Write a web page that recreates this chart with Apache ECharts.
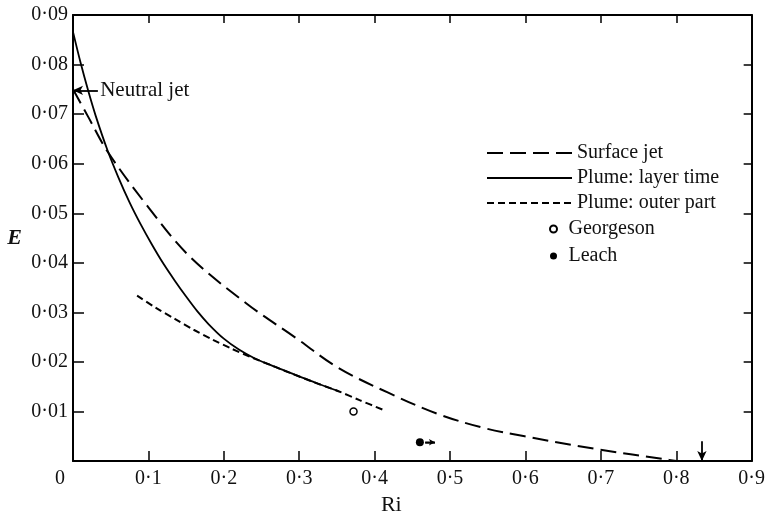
<!DOCTYPE html>
<html><head><meta charset="utf-8">
<script src="https://cdn.jsdelivr.net/npm/echarts@6/dist/echarts.min.js"></script>
<style>html,body{margin:0;padding:0;background:#fff}#c{width:768px;height:521px}</style>
</head><body><div id="c"></div>
<script>
// Data
const riSurface = [0, 0.02, 0.046, 0.1, 0.154, 0.23, 0.296, 0.352, 0.418, 0.484, 0.547, 0.599, 0.695, 0.784, 0.80];
const eSurface  = [0.075, 0.0695, 0.0624, 0.0512, 0.0414, 0.0318, 0.0248, 0.0188, 0.0138, 0.0095, 0.0066, 0.0050, 0.0024, 0.0004, 0.0];
const riLayer = [0, 0.01, 0.02, 0.03, 0.046, 0.06, 0.075, 0.09, 0.105, 0.12, 0.135, 0.15, 0.165, 0.18, 0.2, 0.22, 0.24, 0.26, 0.28, 0.3, 0.325, 0.352];
const eLayer  = [0.0866, 0.0804, 0.0748, 0.0697, 0.0626, 0.0573, 0.0522, 0.0477, 0.0436, 0.0398, 0.0364, 0.0332, 0.0302, 0.0276, 0.0247, 0.0225, 0.0208, 0.0195, 0.0183, 0.0171, 0.0156, 0.0141];
const riOuter = [0.085, 0.11, 0.135, 0.16, 0.185, 0.21, 0.237, 0.26, 0.286, 0.32, 0.352, 0.38, 0.412];
const eOuter  = [0.0334, 0.0309, 0.0287, 0.0265, 0.0245, 0.0227, 0.0209, 0.0195, 0.0179, 0.0159, 0.0141, 0.0123, 0.0103];
const georgeson = [[0.372, 0.010]];
const leach = [[0.460, 0.0038]];
const leachArrow = [[0.467, 0.0038], [0.480, 0.0038]];
const neutralJet = { ri: 0.0, e: 0.0748, arrowFrom: 0.033, labelAt: 0.036 };
const cutoffArrow = { ri: 0.834, eTop: 0.0040, eBottom: 0.0 };
const seriesNames = ['Surface jet', 'Plume: layer time', 'Plume: outer part', 'Georgeson', 'Leach'];

const pairs = (xs, ys) => xs.map((x, i) => [x, ys[i]]);
const dot = s => s.replace('.', '\u00b7');
const font = 'Liberation Serif';
const ink = '#111';

const chart = echarts.init(document.getElementById('c'));
chart.setOption({
  animation: false,
  backgroundColor: '#fff',
  grid: { left: 73, right: 12, top: 15, bottom: 56 },
  xAxis: [{
    type: 'value', min: 0, max: 0.9, interval: 0.1,
    name: 'Ri', nameLocation: 'middle', nameGap: 32,
    nameTextStyle: { fontFamily: font, fontSize: 22, color: ink, padding: [0, 42, 0, 0] },
    axisLine: { lineStyle: { color: '#000', width: 2 } },
    axisTick: { inside: true, length: 10, lineStyle: { color: '#000', width: 1.5 } },
    splitLine: { show: false },
    axisLabel: {
      margin: 8, fontFamily: font, fontSize: 20, color: ink,
      formatter: v => v === 0 ? '{z|0}' : dot(v.toFixed(1)),
      rich: { z: { fontFamily: font, fontSize: 20, color: ink, padding: [0, 26, 0, 0] } }
    }
  }, {
    type: 'value', min: 0, max: 0.9, interval: 0.1, position: 'top',
    axisLine: { show: true, onZero: false, lineStyle: { color: '#000', width: 2 } },
    axisTick: { inside: true, length: 8, lineStyle: { color: '#000', width: 1.5 } },
    axisLabel: { show: false }, splitLine: { show: false }
  }],
  yAxis: [{
    type: 'value', min: 0, max: 0.09, interval: 0.01,
    name: 'E', nameLocation: 'middle', nameGap: 51, nameRotate: 0,
    nameTextStyle: { fontFamily: font, fontSize: 22, fontStyle: 'italic', fontWeight: 'bold', color: ink },
    axisLine: { show: true, lineStyle: { color: '#000', width: 2 } },
    axisTick: { show: true, inside: true, length: 11, lineStyle: { color: '#000', width: 1.5 } },
    splitLine: { show: false },
    axisLabel: {
      margin: 5, fontFamily: font, fontSize: 20, color: ink,
      formatter: v => v === 0 ? '' : dot(v.toFixed(2))
    }
  }, {
    type: 'value', min: 0, max: 0.09, interval: 0.01, position: 'right',
    axisLine: { show: true, onZero: false, lineStyle: { color: '#000', width: 2 } },
    axisTick: { show: true, inside: true, length: 8, lineStyle: { color: '#000', width: 1.5 } },
    axisLabel: { show: false }, splitLine: { show: false }
  }],
  legend: [{
    data: seriesNames.slice(0, 3), orient: 'vertical', left: 481, top: 138,
    itemWidth: 85, itemHeight: 8, itemGap: 5,
    itemStyle: { opacity: 0 },
    textStyle: { fontFamily: font, fontSize: 20, color: ink, lineHeight: 20 },
    selectedMode: false
  }, {
    data: seriesNames.slice(3), orient: 'vertical', left: 544, top: 214,
    itemWidth: 20, itemHeight: 7, itemGap: 7,
    textStyle: { fontFamily: font, fontSize: 20, color: ink, lineHeight: 20 },
    selectedMode: false
  }],
  series: [{
    name: seriesNames[0], type: 'line', data: pairs(riSurface, eSurface),
    smooth: 0.35, symbol: 'none', z: 3,
    lineStyle: { color: '#000', width: 2, type: [16, 7] }, itemStyle: { color: '#000' },
    markLine: {
      silent: true, symbol: ['none', 'arrow'], symbolSize: [7, 10],
      lineStyle: { color: '#000', width: 1.8, type: 'solid' }, label: { show: false },
      data: [
        [{ coord: [cutoffArrow.ri, cutoffArrow.eTop] }, { coord: [cutoffArrow.ri, cutoffArrow.eBottom] }],
        [{ coord: [neutralJet.arrowFrom, neutralJet.e] }, { coord: [neutralJet.ri, neutralJet.e] }]
      ]
    }
  }, {
    name: seriesNames[1], type: 'line', data: pairs(riLayer, eLayer),
    smooth: 0.3, symbol: 'none', z: 3,
    lineStyle: { color: '#000', width: 1.8, type: 'solid' }, itemStyle: { color: '#000' }
  }, {
    name: seriesNames[2], type: 'line', data: pairs(riOuter, eOuter),
    smooth: 0.3, symbol: 'none', z: 3,
    lineStyle: { color: '#000', width: 2, type: [7, 4] }, itemStyle: { color: '#000' }
  }, {
    name: seriesNames[3], type: 'scatter', data: georgeson, symbol: 'circle', symbolSize: 7,
    itemStyle: { color: '#fff', borderColor: '#000', borderWidth: 1.5, opacity: 1 }
  }, {
    name: seriesNames[4], type: 'scatter', data: leach, symbol: 'circle', symbolSize: 8,
    itemStyle: { color: '#000', borderColor: '#000', borderWidth: 0, opacity: 1 }
  }, {
    name: 'leach-arrow', type: 'line', data: leachArrow, symbol: 'none',
    lineStyle: { color: '#000', width: 1.5 },
    markLine: {
      silent: true, symbol: ['none', 'arrow'], symbolSize: [5, 6],
      lineStyle: { color: '#000', width: 1.5, type: 'solid' }, label: { show: false },
      data: [[{ coord: leachArrow[0] }, { coord: leachArrow[1] }]]
    }
  }, {
    name: 'neutral-label', type: 'scatter', symbolSize: 0,
    itemStyle: { color: '#000', opacity: 1 },
    data: [[neutralJet.labelAt, neutralJet.e]],
    label: { show: true, position: 'right', distance: 0, formatter: 'Neutral jet',
      fontFamily: font, fontSize: 21, color: ink, opacity: 1 }
  }]
});
</script></body></html>
